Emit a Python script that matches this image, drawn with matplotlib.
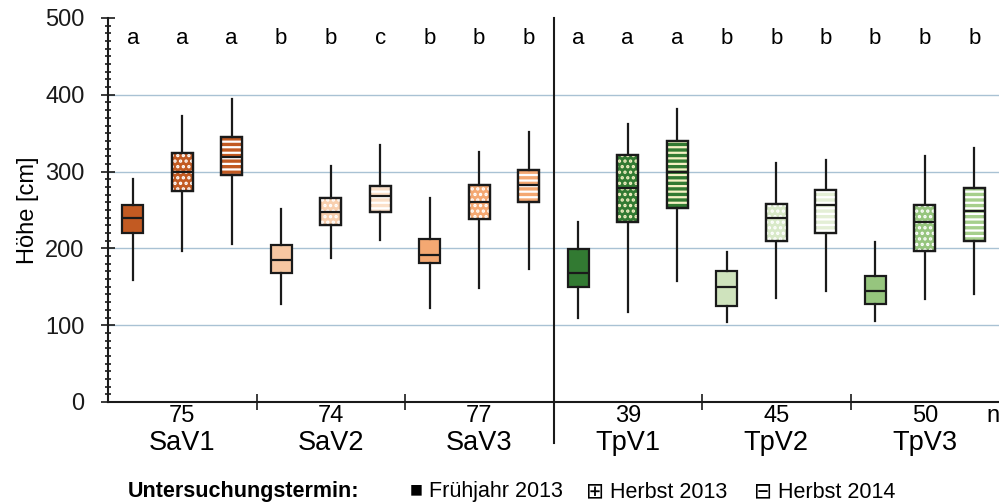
import matplotlib
matplotlib.use("Agg")
import matplotlib.pyplot as plt
from matplotlib.patches import PathPatch
from matplotlib.ticker import MultipleLocator
import matplotlib.transforms as mtransforms

plt.rcParams['font.family'] = ['Liberation Sans', 'DejaVu Sans']
plt.rcParams['hatch.linewidth'] = 1.6

# ---------------- data ----------------
groups = ["SaV1", "SaV2", "SaV3", "TpV1", "TpV2", "TpV3"]
n_values = ["75", "74", "77", "39", "45", "50"]
seasons = ["Frühjahr 2013", "Herbst 2013", "Herbst 2014"]

# order: per group, F13, H13, H14
whislo = [159, 196, 206, 128, 188, 211, 122, 149, 173,
          109, 117, 158, 104, 136, 145, 105, 134, 140]
q1 = [220, 275, 295, 168, 230, 247, 181, 238, 260,
      150, 235, 252, 125, 210, 220, 128, 196, 210]
med = [240, 299, 319, 185, 247, 268, 192, 261, 283,
       168, 278, 299, 150, 239, 257, 145, 234, 249]
q3 = [256, 324, 345, 205, 265, 281, 212, 283, 302,
      199, 321, 340, 170, 258, 276, 164, 256, 278]
whishi = [290, 372, 394, 251, 307, 334, 265, 325, 352,
          234, 362, 382, 195, 311, 315, 208, 320, 331]
letters = ["a", "a", "a", "b", "b", "c", "b", "b", "b",
           "a", "a", "a", "b", "b", "b", "b", "b", "b"]

box_colors = ["#c25a22", "#c25a22", "#c25a22",
              "#f7c7a2", "#f8cfae", "#fbe0c9",
              "#f4a872", "#f4a872", "#f4a872",
              "#327a32", "#327a32", "#327a32",
              "#cfe3bd", "#d8e9c8", "#e4efd6",
              "#96c57e", "#96c57e", "#a6cf8c"]
pattern_colors = ["white"] * 9 + ["#f6f1c4"] * 3 + ["white"] * 6
hatches = [None, "...", "---"] * 6

# ---------------- figure ----------------
fig = plt.figure(figsize=(9.99, 5.03), dpi=100)
ax = fig.add_axes([108 / 999, 1 - 402 / 503, 1 - 108 / 999, (402 - 18) / 503])

positions = [g * 3 + s + 0.5 for g in range(6) for s in range(3)]
stats = [dict(med=med[i], q1=q1[i], q3=q3[i], whislo=whislo[i], whishi=whishi[i])
         for i in range(len(med))]

bp = ax.bxp(stats, positions=positions, widths=0.42, showfliers=False,
            patch_artist=True, showcaps=False,
            boxprops=dict(linewidth=1.6, edgecolor="#1a1a1a"),
            whiskerprops=dict(linewidth=1.6, color="#1a1a1a"),
            medianprops=dict(linewidth=1.6, color="#1a1a1a"),
            zorder=3)

for i, box in enumerate(bp["boxes"]):
    box.set_facecolor(box_colors[i])
    if hatches[i]:
        path = box.get_path()
        hp = PathPatch(path, transform=box.get_transform(), facecolor="none",
                       edgecolor=pattern_colors[i], linewidth=0,
                       hatch=hatches[i], zorder=3.1)
        ax.add_patch(hp)
        op = PathPatch(path, transform=box.get_transform(), fill=False,
                       edgecolor="#1a1a1a", linewidth=1.6, zorder=3.2)
        ax.add_patch(op)
for m in bp["medians"]:
    m.set_zorder(3.3)

ax.set_xlim(0, 18)
ax.set_ylim(0, 500)

# grid
for yv in [100, 200, 300, 400]:
    ax.axhline(yv, color="#a9c2d4", linewidth=1.0, zorder=1)

# spines
for s in ["top", "right"]:
    ax.spines[s].set_visible(False)
for s in ["left", "bottom"]:
    ax.spines[s].set_linewidth(1.5)
    ax.spines[s].set_color("#1a1a1a")

# y ticks
ax.yaxis.set_major_locator(MultipleLocator(100))
ax.yaxis.set_minor_locator(MultipleLocator(10))
ax.tick_params(axis="y", which="major", direction="inout", length=10, width=1.2,
               labelsize=17, pad=12, colors="#1a1a1a")
ax.tick_params(axis="y", which="minor", direction="inout", length=5, width=1.2,
               colors="#1a1a1a")
ax.set_ylabel("Höhe [cm]", fontsize=17, labelpad=4)

# x ticks at group boundaries
ax.set_xticks([3, 6, 12, 15])
ax.set_xticklabels([])
ax.tick_params(axis="x", which="major", direction="inout", length=12, width=1.2,
               colors="#1a1a1a")

# divider between SaV and TpV
ax.plot([9, 9], [-0.107, 1.0], transform=ax.get_xaxis_transform(),
        color="#1a1a1a", linewidth=1.5, clip_on=False, zorder=4)

# significance letters
for p, l in zip(positions, letters):
    ax.text(p, 473, l, ha="center", va="center", fontsize=16)

# group labels
trans = mtransforms.blended_transform_factory(ax.transData, ax.transAxes)
for g in range(6):
    xc = g * 3 + 1.5
    ax.text(xc, -0.029, n_values[g], transform=trans, ha="center", va="center_baseline",
            fontsize=17)
    ax.text(xc, -0.099, groups[g], transform=trans, ha="center", va="center_baseline",
            fontsize=19.5)
ax.text(17.75, -0.029, "n", transform=trans, ha="left", va="center_baseline", fontsize=17)

# legend line
fy = 1 - 497 / 503
fig.text(128 / 999, fy, "Untersuchungstermin:", fontsize=15.5, fontweight="bold",
         va="baseline", ha="left")
fig.text(410 / 999, fy, "■ " + seasons[0], fontsize=15.5, va="baseline", ha="left")
fig.text(586 / 999, fy, "⊞ " + seasons[1], fontsize=15.5, va="baseline", ha="left")
fig.text(754 / 999, fy, "⊟ " + seasons[2], fontsize=15.5, va="baseline", ha="left")

fig.savefig("out.png", dpi=100)
